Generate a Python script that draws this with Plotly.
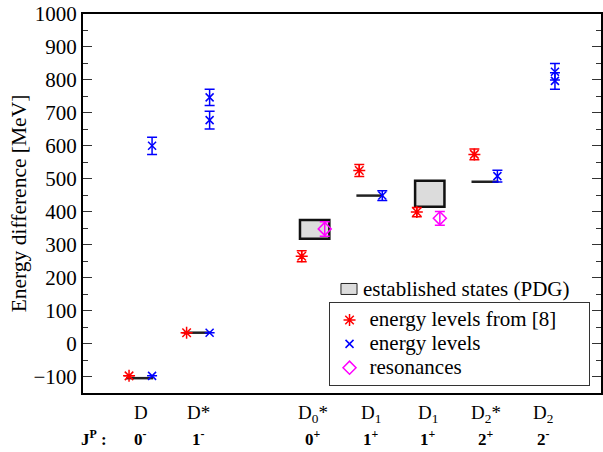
import plotly.graph_objects as go

# ---- data ----
categories = ["D", "D*", "D<sub>0</sub>*", "D<sub>1</sub>", "D<sub>1</sub>", "D<sub>2</sub>*", "D<sub>2</sub>"]
jp_labels = ["0<sup>-</sup>", "1<sup>-</sup>", "0<sup>+</sup>", "1<sup>+</sup>", "1<sup>+</sup>", "2<sup>+</sup>", "2<sup>-</sup>"]
cat_pos = [1, 2, 4, 5, 6, 7, 8]

# energy levels from [8] (red asterisks)
ref8_cat = [0, 1, 2, 3, 4, 5]
ref8_val = [-98, 33, 265, 525, 399, 574]
ref8_err = [0, 0, 17, 18, 14, 16]

# energy levels (blue crosses)
lev_cat = [0, 0, 1, 1, 1, 3, 5, 6, 6]
lev_val = [-98, 600, 33, 747, 678, 449, 508, 825, 797]
lev_err = [0, 26, 0, 25, 27, 15, 18, 25, 25]

# resonances (magenta diamonds)
res_cat = [2, 4]
res_val = [348, 380]
res_err = [22, 21]

# established states (PDG): narrow lines and broad boxes
pdg_line_cat = [0, 1, 3, 5]
pdg_line_val = [-105, 33, 449, 491]
pdg_box_cat = [2, 4]
pdg_box_lo = [318, 415]
pdg_box_hi = [375, 494]

y_ticks = list(range(-100, 1001, 100))

series_names = ["energy levels from [8]", "energy levels", "resonances"]
pdg_name = "established states (PDG)"

# ---- styling constants ----
FONT = "Liberation Serif, Times New Roman, serif"
OFF = 0.2
NB = "\u00a0"

def legname(s, pad=0):
    return "<span style='font-size:21px'>" + s + NB * pad + "</span>"

fig = go.Figure()

def xs(cats, off):
    return [cat_pos[c] + off for c in cats]

fig.add_trace(go.Scatter(
    x=xs(ref8_cat, -OFF), y=ref8_val, mode="markers", name=legname(series_names[0], 5),
    marker=dict(symbol="asterisk-open", size=10, color="red", line=dict(width=1.5, color="red")),
    error_y=dict(type="data", array=ref8_err, color="red", thickness=1.5, width=5),
))
fig.add_trace(go.Scatter(
    x=xs(lev_cat, OFF), y=lev_val, mode="markers", name=legname(series_names[1]),
    marker=dict(symbol="x-thin-open", size=8, color="blue", line=dict(width=1.5, color="blue")),
    error_y=dict(type="data", array=lev_err, color="blue", thickness=1.5, width=5),
))
fig.add_trace(go.Scatter(
    x=xs(res_cat, OFF), y=res_val, mode="markers", name=legname(series_names[2]),
    marker=dict(symbol="diamond-open", size=10, color="magenta", line=dict(width=1.5, color="magenta")),
    error_y=dict(type="data", array=res_err, color="magenta", thickness=1.5, width=5),
))

shapes = []
for c, v in zip(pdg_line_cat, pdg_line_val):
    shapes.append(dict(type="line", xref="x", yref="y", x0=cat_pos[c] - 0.25, x1=cat_pos[c] + 0.22,
                       y0=v, y1=v, line=dict(color="#222222", width=2.5), layer="below"))
for c, lo, hi in zip(pdg_box_cat, pdg_box_lo, pdg_box_hi):
    shapes.append(dict(type="rect", xref="x", yref="y", x0=cat_pos[c] - 0.23, x1=cat_pos[c] + 0.28,
                       y0=lo, y1=hi, fillcolor="#dcdcdc", line=dict(color="#111111", width=2.5), layer="below"))
# PDG legend entry (outside the legend box)
shapes.append(dict(type="rect", xref="paper", yref="paper", x0=0.498, x1=0.529, y0=0.260, y1=0.289,
                   fillcolor="#dcdcdc", line=dict(color="#222222", width=1)))

annotations = [dict(xref="paper", yref="paper", x=0.537, y=0.275, xanchor="left", yanchor="middle",
                    text=pdg_name, showarrow=False,
                    font=dict(family=FONT, size=21, color="black"))]
for p, lab, jp in zip(cat_pos, categories, jp_labels):
    annotations.append(dict(xref="x", yref="paper", x=p, y=-0.018, xanchor="center", yanchor="top",
                            text=lab, showarrow=False, font=dict(family=FONT, size=19, color="black")))
    annotations.append(dict(xref="x", yref="paper", x=p, y=-0.085, xanchor="center", yanchor="top",
                            text="<b>" + jp + "</b>", showarrow=False, font=dict(family=FONT, size=17, color="black")))
annotations.append(dict(xref="x", yref="paper", x=0.19, y=-0.085, xanchor="center", yanchor="top",
                        text="<b>J<sup>P</sup> :</b>", showarrow=False, font=dict(family=FONT, size=17, color="black")))

fig.update_layout(
    width=603, height=452,
    margin=dict(l=83, r=2, t=14, b=59, autoexpand=False),
    paper_bgcolor="white", plot_bgcolor="white",
    showlegend=True,
    legend=dict(x=0.474, y=0.018, xanchor="left", yanchor="bottom",
                bordercolor="#333333", borderwidth=1, bgcolor="white",
                font=dict(family=FONT, size=16, color="black"),
                tracegroupgap=0, itemwidth=30),
    shapes=shapes, annotations=annotations,
    font=dict(family=FONT, color="black"),
)
fig.update_xaxes(range=[0, 9], showgrid=False, zeroline=False, showticklabels=False, ticks="",
                 showline=True, linecolor="black", linewidth=2, mirror=True, automargin=False)
fig.update_yaxes(range=[-150, 1000], showgrid=False, zeroline=False, automargin=False,
                 tickvals=y_ticks, ticks="inside", ticklen=9, tickwidth=1, tickcolor="#333333",
                 minor=dict(dtick=50, ticks="inside", ticklen=5, tickwidth=1, tickcolor="#333333"),
                 showline=True, linecolor="black", linewidth=2, mirror="ticks",
                 tickfont=dict(family=FONT, size=21, color="black"),
                 title=dict(text="Energy difference [MeV]", font=dict(family=FONT, size=21.5, color="black"), standoff=1))

fig.write_html("out.html", post_script="document.body.style.margin='0';",
               config={"displayModeBar": False})
